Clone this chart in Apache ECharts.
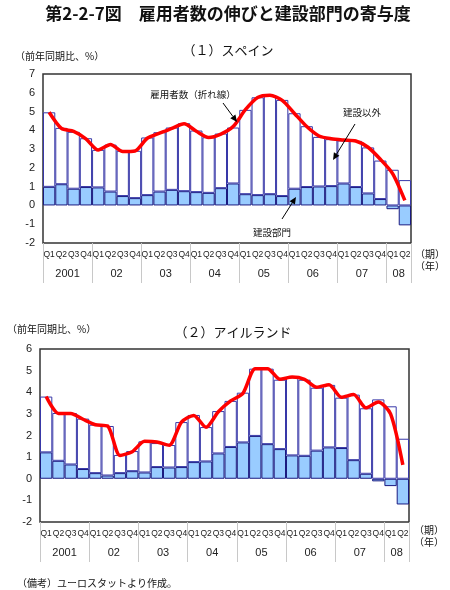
<!DOCTYPE html>
<html><head><meta charset="utf-8">
<script src="https://cdn.jsdelivr.net/npm/echarts@6/dist/echarts.min.js"></script>
<style>html,body{margin:0;padding:0;background:#fff}#c{width:450px;height:590px}</style>
</head><body><div id="c"></div>
<script>
const quarters = ['Q1','Q2','Q3','Q4','Q1','Q2','Q3','Q4','Q1','Q2','Q3','Q4','Q1','Q2','Q3','Q4','Q1','Q2','Q3','Q4','Q1','Q2','Q3','Q4','Q1','Q2','Q3','Q4','Q1','Q2'];
const yearLabels = ['2001','02','03','04','05','06','07','08'];
const yearLabelAt = [2,6,10,14,18,22,26,29];
const yearBounds = [0,4,8,12,16,20,24,28,30];

const spainConstr = [0.99,1.13,0.89,0.98, 0.96,0.74,0.50,0.39, 0.55,0.74,0.83,0.76, 0.71,0.67,0.92,1.17, 0.60,0.55,0.60,0.50, 0.89,0.98,1.01,1.03, 1.17,0.98,0.64,0.34, -0.20,-1.06];
const spainOther  = [3.97,3.00,3.03,2.60, 2.00,2.50,2.41,2.52, 3.07,3.16,3.32,3.62, 3.28,2.96,2.91,2.98, 4.49,5.21,5.27,5.12, 4.02,3.24,2.64,2.50, 2.29,2.46,2.45,2.05, 1.90,1.35];
const spainTotal  = [4.96,4.10,3.95,3.55, 2.95,3.25,2.87,2.90, 3.58,3.85,4.10,4.35, 3.95,3.62,3.80,4.20, 5.10,5.75,5.87,5.60, 4.90,4.20,3.70,3.55, 3.48,3.43,3.10,2.46, 1.70,0.27];

const irelandConstr = [1.22,0.83,0.66,0.45, 0.26,0.15,0.26,0.35, 0.29,0.54,0.52,0.54, 0.77,0.80,1.17,1.47, 1.68,1.98,1.60,1.37, 1.08,1.06,1.30,1.45, 1.42,0.86,0.23,-0.12, -0.34,-1.19];
const irelandOther  = [2.58,2.21,2.38,2.33, 2.24,2.29,0.84,0.93, 1.44,1.11,1.04,2.08, 2.18,1.59,1.96,2.13, 2.30,3.11,3.49,3.21, 3.61,3.52,2.91,2.89, 2.33,3.03,3.03,3.67, 3.35,1.85];
const irelandTotal  = [3.80,3.02,3.02,2.75, 2.50,2.44,1.08,1.25, 1.73,1.70,1.55,2.62, 2.93,2.38,3.10,3.60, 3.95,5.09,5.09,4.60, 4.70,4.60,4.23,4.35, 3.77,3.90,3.28,3.55, 3.00,0.64];

const JP = '"Noto Sans CJK JP", sans-serif';
const NUM = '"Liberation Sans", sans-serif';

function arrow(x1,y1,x2,y2){
  const dx=x2-x1, dy=y2-y1, L=Math.hypot(dx,dy), ux=dx/L, uy=dy/L;
  const h=7, w=3.2, bx=x2-ux*h, by=y2-uy*h;
  return [
    {type:'line', shape:{x1:x1,y1:y1,x2:bx,y2:by}, style:{stroke:'#000',lineWidth:1}, z:10},
    {type:'polygon', shape:{points:[[x2,y2],[bx-uy*w,by+ux*w],[bx+uy*w,by-ux*w]]}, style:{fill:'#000'}, z:10}
  ];
}
function txt(x,y,t,size,opt){
  return {type:'text', x:x, y:y, z:10,
    style:Object.assign({text:t, fontSize:size, fontFamily:JP, fill:'#111', align:'left', verticalAlign:'middle'}, opt||{})};
}

function xAxes(g){
  return [
    {type:'category', gridIndex:g, data:quarters, position:'bottom',
     axisLine:{show:false}, axisTick:{show:false},
     axisLabel:{interval:0, margin:7, fontSize:8.5, fontFamily:NUM, color:'#222'}},
    {type:'value', gridIndex:g, min:0, max:30, position:'bottom',
     axisLine:{show:false}, splitLine:{show:false},
     axisTick:{show:true, customValues:yearBounds, length:40, lineStyle:{color:'#c8c8c8', width:1}},
     axisLabel:{customValues:yearLabelAt, margin:25, fontSize:11, fontFamily:NUM, color:'#222',
       formatter:function(v){const i=yearLabelAt.indexOf(v); return i>=0?yearLabels[i]:'';}}}
  ];
}
function yAxis(g,max){
  return {type:'value', gridIndex:g, min:-2, max:max, interval:1,
    axisLine:{show:false}, axisTick:{show:false}, splitLine:{show:false},
    axisLabel:{margin:8, fontSize:11, fontFamily:NUM, color:'#222'}};
}
function series(g, constr, other, total){
  const xi = g*2;
  return [
    {type:'bar', xAxisIndex:xi, yAxisIndex:g, stack:'s'+g, data:constr, barCategoryGap:'0%',
     itemStyle:{color:'#99ccff', borderColor:'#1a1a80', borderWidth:1}},
    {type:'bar', xAxisIndex:xi, yAxisIndex:g, stack:'s'+g, data:other, barCategoryGap:'0%',
     itemStyle:{color:'#ffffff', borderColor:'#3838a8', borderWidth:1}},
    {type:'line', xAxisIndex:xi, yAxisIndex:g, data:total, smooth:0.25, symbol:'none', z:5,
     lineStyle:{color:'#ff0000', width:3.5}}
  ];
}

const chart = echarts.init(document.getElementById('c'), null, {renderer:'canvas'});
chart.setOption({
  animation:false,
  backgroundColor:'#fff',
  grid:[
    {left:43, right:39, top:74, height:169, show:true, borderColor:'#333', borderWidth:1.5, backgroundColor:'transparent'},
    {left:40, right:41, top:349, height:173, show:true, borderColor:'#333', borderWidth:1.5, backgroundColor:'transparent'}
  ],
  xAxis: xAxes(0).concat(xAxes(1)),
  yAxis: [yAxis(0,7), yAxis(1,6)],
  series: series(0, spainConstr, spainOther, spainTotal).concat(series(1, irelandConstr, irelandOther, irelandTotal)),
  graphic: [
    txt(228,14,'第2-2-7図　雇用者数の伸びと建設部門の寄与度',17,{align:'center', fontWeight:'bold'}),
    txt(228,50,'（１）スペイン',13,{align:'center'}),
    txt(15,56,'（前年同期比、%）',10),
    txt(233,332,'（２）アイルランド',13,{align:'center'}),
    txt(7,329,'（前年同期比、%）',10),
    txt(193,94,'雇用者数（折れ線）',9.5,{align:'center'}),
    txt(362,112,'建設以外',9.5,{align:'center'}),
    txt(272,232,'建設部門',9.5,{align:'center'}),
    txt(415,254,'（期）',10),
    txt(415,266,'（年）',10),
    txt(414,530,'（期）',10),
    txt(414,542,'（年）',10),
    txt(17,583,'（備考）ユーロスタットより作成。',10)
  ].concat(arrow(223,103,237,122), arrow(355,124,333,160), arrow(282,219,296,197))
});
</script>
</body></html>
